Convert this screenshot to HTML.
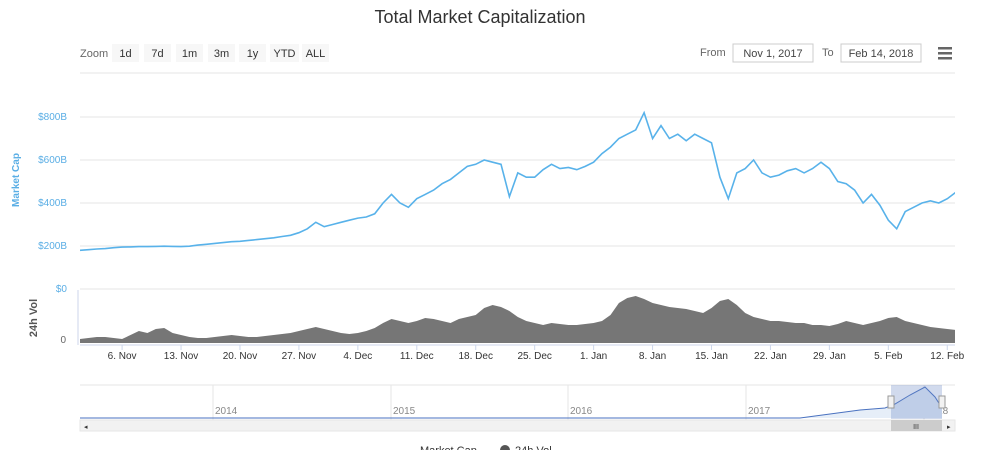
<!DOCTYPE html>
<html><head><meta charset="utf-8"><style>
body{margin:0;background:#fff;font-family:"Liberation Sans",sans-serif;}
svg text{font-family:"Liberation Sans",sans-serif;}
</style></head><body>
<svg id="c" width="983" height="450">
<text x="480" y="23" text-anchor="middle" font-size="18" fill="#333">Total Market Capitalization</text>
<g font-size="11" fill="#333">
<text x="80" y="57" fill="#666">Zoom</text>
<g id="btns"></g>
<text x="700" y="56" fill="#666">From</text>
<rect x="733" y="44" width="80" height="18" fill="#fff" stroke="#ccc"/>
<text x="773" y="57" text-anchor="middle" fill="#444">Nov 1, 2017</text>
<text x="822" y="56" fill="#666">To</text>
<rect x="841" y="44" width="80" height="18" fill="#fff" stroke="#ccc"/>
<text x="881" y="57" text-anchor="middle" fill="#444">Feb 14, 2018</text>
<g fill="#666"><rect x="938" y="47" width="14" height="2.5"/><rect x="938" y="52" width="14" height="2.5"/><rect x="938" y="57" width="14" height="2.5"/></g>
</g>
<line x1="80" y1="73" x2="955" y2="73" stroke="#e6e6e6"/>
<g id="grid"></g>
<text transform="translate(19,180) rotate(-90)" text-anchor="middle" font-size="10" font-weight="bold" fill="#5aaee5">Market Cap</text>
<text transform="translate(37,318) rotate(-90)" text-anchor="middle" font-size="11" font-weight="bold" fill="#555">24h Vol</text>
<text x="66" y="343" text-anchor="end" font-size="10" fill="#666">0</text>
<line x1="78" y1="290" x2="78" y2="345" stroke="#ccd6eb"/>
<defs><clipPath id="cp"><rect x="80" y="80" width="875" height="270"/></clipPath></defs>
<g clip-path="url(#cp)">
<path id="vol" fill="#767676"/>
<path id="cap" fill="none" stroke="#58b2ea" stroke-width="1.6"/>
</g>
<line x1="80" y1="345" x2="955" y2="345" stroke="#ccd6eb"/>
<g id="xt"></g>
<g>
<line x1="80" y1="385" x2="955" y2="385" stroke="#e6e6e6"/>
<g id="navyears"></g>
<path d="M80 418 L800 418 L830 414 L860 410 L885 408 L895 404 L910 395 L925 387 L935 397 L942 408 L942 418 Z" fill="#e6eef8"/>
<path d="M80 418 L800 418 L830 414 L860 410 L885 408 L895 404 L910 395 L925 387 L935 397 L942 408" fill="none" stroke="#4a72c0" stroke-width="1"/>
<rect x="891" y="385" width="51" height="34" fill="rgba(102,133,194,0.3)"/>
<rect x="888" y="396" width="6" height="12" fill="#f2f2f2" stroke="#999"/>
<rect x="939" y="396" width="6" height="12" fill="#f2f2f2" stroke="#999"/>
<rect x="80" y="420" width="875" height="11" fill="#f2f2f2" stroke="#e6e6e6"/>
<rect x="891" y="420" width="51" height="11" fill="#ccc"/>
<text x="916" y="429" text-anchor="middle" font-size="7" fill="#333">III</text>
<text x="84" y="429" font-size="7" fill="#333">◂</text>
<text x="947" y="429" font-size="7" fill="#333">▸</text>
</g>
<text x="420" y="454" font-size="11" fill="#333">Market Cap</text>
<circle cx="505" cy="450" r="5" fill="#555"/>
<text x="515" y="454" font-size="11" fill="#333">24h Vol</text>
</svg>
<script>
const capValues=[180,183,186,188,192,195,196,197,197,198,199,198,197,199,204,208,212,216,220,222,226,230,234,238,244,250,262,280,310,290,
300,310,320,330,335,350,400,440,400,380,420,440,460,490,510,540,570,580,600,590,580,430,540,520,520,555,580,560,565,555,570,
590,630,660,700,720,740,820,700,760,700,720,690,720,700,680,520,420,540,560,600,540,520,530,550,560,540,560,590,560,500,490,
460,400,440,390,320,280,360,380,400,410,400,420,450,420];
const volValues=[4,5,6,6,5,4,8,12,10,14,15,10,8,6,5,5,6,7,8,7,6,6,7,8,9,10,12,14,16,14,
12,10,9,10,12,15,20,24,22,20,22,25,24,22,20,24,26,28,35,38,36,32,26,22,20,18,20,19,18,18,19,
20,22,28,40,45,47,44,40,38,36,35,34,32,30,35,42,44,38,30,26,24,22,22,21,20,20,18,18,17,19,22,
20,18,20,22,25,26,22,20,18,16,15,14,13,12];
const capTicks=[0,200,400,600,800];
const capTickLabels=["$0","$200B","$400B","$600B","$800B"];
const xTickDays=[5,12,19,26,33,40,47,54,61,68,75,82,89,96,103];
const xTickLabels=["6. Nov","13. Nov","20. Nov","27. Nov","4. Dec","11. Dec","18. Dec","25. Dec","1. Jan","8. Jan","15. Jan","22. Jan","29. Jan","5. Feb","12. Feb"];
const zoomButtons=["1d","7d","1m","3m","1y","YTD","ALL"];
const navYears=["2014","2015","2016","2017","2018"];
const NS="http://www.w3.org/2000/svg";
const xs=d=>80+d*8.42;
const ys=v=>289-v*0.215;
const yv=v=>343-v;
function mk(t,a,p){const e=document.createElementNS(NS,t);for(const k in a)e.setAttribute(k,a[k]);p.appendChild(e);return e;}
const btns=document.getElementById('btns');
const bx=[112,144,176,208,239,270,302],bw=[27,27,27,27,27,29,27];
zoomButtons.forEach((b,i)=>{const r=mk('rect',{x:bx[i],y:44,width:bw[i],height:18,fill:'#f7f7f7'},btns);


const t=mk('text',{x:bx[i]+bw[i]/2,y:57,'text-anchor':'middle'},btns);t.textContent=b;});
const g=document.getElementById('grid');
capTicks.forEach((v,i)=>{const l=mk('line',{x1:80,x2:955,y1:ys(v),y2:ys(v),stroke:'#e6e6e6'},g);


const t=mk('text',{x:67,y:ys(v)+3,'text-anchor':'end','font-size':10,fill:'#5aaee5'},g);t.textContent=capTickLabels[i];

});
document.getElementById('cap').setAttribute('d',capValues.map((v,i)=>(i?'L':'M')+xs(i).toFixed(1)+' '+ys(v).toFixed(1)).join(' '));
let vd='M'+xs(0)+' 343 '+volValues.map((v,i)=>'L'+xs(i).toFixed(1)+' '+yv(v)).join(' ')+' L'+xs(volValues.length-1).toFixed(1)+' 343 Z';
document.getElementById('vol').setAttribute('d',vd);
const xt=document.getElementById('xt');
xTickDays.forEach((d,i)=>{mk('line',{x1:xs(d),x2:xs(d),y1:345,y2:350,stroke:'#ccd6eb'},xt);
const t=mk('text',{x:xs(d),y:359,'text-anchor':'middle','font-size':10,fill:'#333'},xt);t.textContent=xTickLabels[i];

});
const ny=document.getElementById('navyears');const nyx=[213,391,568,746,924];
navYears.forEach((y,i)=>{mk('line',{x1:nyx[i],x2:nyx[i],y1:385,y2:420,stroke:'#e6e6e6'},ny);
const t=mk('text',{x:nyx[i]+2,y:414,'font-size':10,fill:'#888'},ny);t.textContent=y;});
</script>
</body></html>
